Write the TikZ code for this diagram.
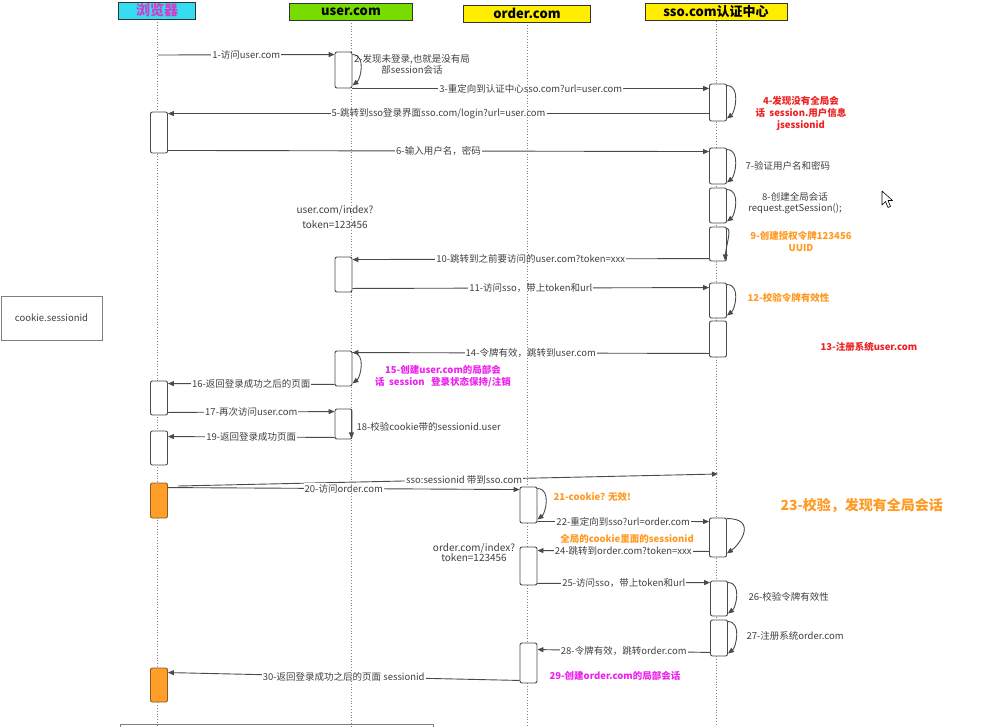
\documentclass[tikz,border=0pt]{standalone}
\usepackage{fontspec}
\setmainfont{Noto Sans CJK SC}
\usetikzlibrary{arrows.meta}
\definecolor{linegray}{HTML}{4A4A4A}
\definecolor{txtgray}{HTML}{404040}
\definecolor{hdrcyan}{HTML}{36DDF0}
\definecolor{hdrgreen}{HTML}{77DD00}
\definecolor{hdryellow}{HTML}{FFEE00}
\definecolor{hdrmagenta}{HTML}{D23CC8}
\definecolor{boxorange}{HTML}{FF9F2A}
\definecolor{orangeline}{HTML}{8A5A20}
\definecolor{noteorange}{HTML}{FF9A22}
\definecolor{notered}{HTML}{EE2222}
\definecolor{notemagenta}{HTML}{EE22EE}
\pgfdeclarelayer{bg}
\pgfdeclarelayer{lines}
\pgfsetlayers{bg,lines,main}

\begin{document}
\begin{tikzpicture}[x=1pt,y=-1pt,
  every node/.style={font=\fontsize{9.5}{11}\selectfont, text=txtgray},
  hdr/.style={draw=black!80, minimum height=17pt, inner sep=0pt, font=\bfseries\fontsize{13}{14}\selectfont, text=black},
  act/.style={draw=linegray, fill=white, line width=0.9pt, rounded corners=2pt, minimum width=17pt, inner sep=0pt},
  actor/.style={act, fill=boxorange, draw=orangeline},
  msg/.style={draw=linegray, line width=0.9pt, -{Triangle[length=6pt,width=5pt]}},
  lbl/.style={fill=white, inner sep=1pt},
  life/.style={draw=gray, dotted, line width=0.8pt},
  remark/.style={font=\bfseries\fontsize{9.5}{12}\selectfont, align=center},
]
\useasboundingbox (0,0) rectangle (1004,726);
\begin{pgfonlayer}{bg}
\fill[white] (0,0) rectangle (1004,726);
\end{pgfonlayer}

% lifeline heads
\node[hdr, fill=hdrcyan, minimum width=77pt, text=hdrmagenta, font=\bfseries\fontsize{14}{15}\selectfont] (hb) at (157,10.5) {浏览器};
\node[hdr, fill=hdrgreen, minimum width=123pt] (hu) at (351,11.5) {user.com};
\node[hdr, fill=hdryellow, minimum width=127pt] (ho) at (527,13.5) {order.com};
\node[hdr, fill=hdryellow, minimum width=142pt] (hs) at (716,12) {sso.com认证中心};
\coordinate (bottom) at (0,726);

\begin{pgfonlayer}{lines}
\draw[life] (hb.south) -- (hb.south |- bottom);
\draw[life] (hu.south) -- (hu.south |- bottom);
\draw[life] (ho.south) -- (ho.south |- bottom);
\draw[life] (hs.south) -- (hs.south |- bottom);
\end{pgfonlayer}

% activation boxes
\node[act, minimum height=41pt] (b1) at (159,132.5) {};
\node[act, minimum height=34pt] (b2) at (159,398) {};
\node[act, minimum height=34pt] (b3) at (159,448) {};
\node[actor, minimum height=35pt] (b4) at (159,500.5) {};
\node[actor, minimum height=34pt] (b5) at (159,685) {};
\node[act, minimum height=36pt] (u1) at (343.5,70) {};
\node[act, minimum height=35pt] (u2) at (343.5,274.5) {};
\node[act, minimum height=35pt] (u3) at (343.5,368.5) {};
\node[act, minimum height=30pt] (u4) at (343.5,424) {};
\node[act, minimum height=36pt] (o1) at (528.5,505) {};
\node[act, minimum height=38pt] (o2) at (528.5,566) {};
\node[act, minimum height=40pt] (o3) at (528.5,663) {};
\node[act, minimum height=37pt] (s1) at (718,102.5) {};
\node[act, minimum height=36pt] (s2) at (718,166) {};
\node[act, minimum height=35pt] (s3) at (718,205.5) {};
\node[act, minimum height=34pt] (s4) at (718,244) {};
\node[act, minimum height=35pt] (s5) at (718,300.5) {};
\node[act, minimum height=36pt] (s6) at (718,339) {};
\node[act, minimum height=39pt] (s7) at (718,537.5) {};
\node[act, minimum height=35pt] (s8) at (719,598.5) {};
\node[act, minimum height=36pt] (s9) at (719,638) {};

\coordinate (m1) at (158,55);
\coordinate (c1) at (178,486);
\coordinate (c2) at (718,474);

% messages
\begin{pgfonlayer}{bg}
\draw[msg] (m1) -- node[lbl] {1-访问user.com} ([yshift=-3pt]u1.north west);
\draw[msg] (u1.south east) -- node[lbl] {3-重定向到认证中心sso.com?url=user.com} (s1.west |- u1.south east);
\draw[msg] ([yshift=-30pt]s1.north west) -- node[lbl] {5-跳转到sso登录界面sso.com/login?url=user.com} ([yshift=-2pt]b1.north east);
\draw[msg] ([yshift=3pt]b1.south east) -- node[lbl] {6-输入用户名，密码} ([yshift=-4pt]s2.north west);
\draw[msg] ([yshift=-32pt]s4.north west) -- node[lbl] {10-跳转到之前要访问的user.com?token=xxx} ([yshift=-3pt]u2.north east);
\draw[msg] ([yshift=4pt]u2.south east) -- node[lbl] {11-访问sso，带上token和url} ([yshift=-5pt]s5.north west);
\draw[msg] ([yshift=4pt]s6.south west) -- node[lbl] {14-令牌有效，跳转到user.com} ([yshift=-2pt]u3.north east);
\draw[msg] ([yshift=2pt]u3.south west) -- node[lbl] {16-返回登录成功之后的页面} ([yshift=-3pt]b2.north east);
\draw[msg] ([yshift=3pt]b2.south east) -- node[lbl] {17-再次访问user.com} ([yshift=-3pt]u4.north west);
\draw[msg] ([yshift=2pt]u4.south west) -- node[lbl] {19-返回登录成功页面} ([yshift=-6pt]b3.north east);
\draw[msg] (c1) -- node[lbl, pos=0.53] {sso:sessionid 带到sso.com} (c2);
\draw[msg] ([yshift=-5pt]b4.north east) -- node[lbl] {20-访问order.com} ([yshift=-3pt]o1.north west);
\draw[msg] ([yshift=2pt]o1.south east) -- node[lbl] {22-重定向到sso?url=order.com} ([yshift=-4pt]s7.north west);
\draw[msg] ([yshift=6pt]s7.south west) -- node[lbl] {24-跳转到order.com?token=xxx} ([yshift=-4pt]o2.north east);
\draw[msg] ([yshift=2pt]o2.south east) -- node[lbl] {25-访问sso，带上token和url} ([yshift=-2pt]s8.north west);
\draw[msg] ([yshift=4pt]s9.south west) -- node[lbl] {28-令牌有效，跳转order.com} ([yshift=-7pt]o3.north east);
\draw[msg] ([yshift=3pt]o3.south west) -- node[lbl] {30-返回登录成功之后的页面 sessionid} ([yshift=-5pt]b5.north east);
\end{pgfonlayer}

% self calls
\draw[msg] ([yshift=-3pt]u1.north east) .. controls +(14,0) and +(8,-6) .. ([yshift=3pt]u1.south east);
\draw[msg] ([yshift=-2pt]s1.north east) .. controls +(14,0) and +(8,-6) .. ([yshift=3pt]s1.south east);
\draw[msg] ([yshift=-2pt]s2.north east) .. controls +(14,0) and +(8,-6) .. ([yshift=2pt]s2.south east);
\draw[msg] ([yshift=-2pt]s3.north east) .. controls +(14,0) and +(8,-6) .. ([yshift=2pt]s3.south east);
\draw[msg] ([yshift=-2pt]s4.north east) .. controls +(5,0) and +(1,-14) .. ([xshift=-2pt,yshift=1pt]s4.south east);
\draw[msg] ([yshift=-2pt]s5.north east) .. controls +(14,0) and +(8,-6) .. ([yshift=3pt]s5.south east);
\draw[msg] ([yshift=-2pt]u3.north east) .. controls +(14,0) and +(8,-6) .. ([yshift=3pt]u3.south east);
\draw[msg] ([xshift=-1pt]u4.north east) -- ([xshift=-1pt,yshift=1pt]u4.south east);
\draw[msg] ([yshift=-2pt]o1.north east) .. controls +(14,0) and +(8,-6) .. ([yshift=4pt]o1.south east);
\draw[msg] ([yshift=-1pt]s7.north east) .. controls +(30,0) and +(14,-10) .. ([yshift=4pt]s7.south east);
\draw[msg] ([yshift=-2pt]s8.north east) .. controls +(14,0) and +(8,-6) .. ([yshift=3pt]s8.south east);
\draw[msg] ([yshift=-2pt]s9.north east) .. controls +(14,0) and +(8,-6) .. ([yshift=3pt]s9.south east);

% notes
\node[align=center] (n2) at (412,64) {2-发现未登录,也就是没有局\\部session会话};
\node[remark, text=notered] (n4) at (801,113) {4-发现没有全局会\\话\ \ session.用户信息\\jsessionid};
\node[anchor=west] (n7) at (742,166) {7-验证用户名和密码};
\node[align=center] (n8) at (795,203) {8-创建全局会话\\request.getSession();};
\node[remark, text=noteorange] (n9) at (801,241.5) {9-创建授权令牌123456\\UUID};
\node[align=center, font=\fontsize{10}{15}\selectfont] (ui) at (335,217.5) {user.com/index?\\token=123456};
\node[remark, anchor=west, text=noteorange] (n12) at (744,298) {12-校验令牌有效性};
\node[remark, anchor=west, text=notered] (n13) at (817,347) {13-注册系统user.com};
\node[remark, text=notemagenta] (n15) at (443,376.5) {15-创建user.com的局部会\\话\ \ session\ \ \ 登录状态保持/注销};
\node[anchor=west] (n18) at (353,427) {18-校验cookie带的sessionid.user};
\node[remark, anchor=west, text=noteorange] (n21) at (550,497) {21-cookie? 无效!};
\node[remark, anchor=west, text=noteorange, font=\bfseries\fontsize{14}{16}\selectfont] (n23) at (777,505) {23-校验，发现有全局会话};
\node[remark, text=noteorange] (ng) at (627,538.5) {全局的cookie里面的sessionid};
\node[align=center, font=\fontsize{10}{10}\selectfont] (oi) at (474,553) {order.com/index?\\token=123456};
\node[anchor=west] (n26) at (745,597) {26-校验令牌有效性};
\node[anchor=west] (n27) at (743,636) {27-注册系统order.com};
\node[remark, anchor=west, text=notemagenta] (n29) at (546,676) {29-创建order.com的局部会话};

% side box
\node[draw=gray, minimum width=101pt, minimum height=44pt, inner sep=0pt] (ck) at (51.5,318) {cookie.sessionid};
\draw[gray] (120,724) rectangle (433,745);

% mouse pointer
\draw[black, fill=white, line width=0.6pt, line join=round] (882,191) -- (882,205) -- (885.5,201.5) -- (888,207.5) -- (890.5,206.5) -- (888,200.5) -- (892.5,200.5) -- cycle;
\end{tikzpicture}
\end{document}
